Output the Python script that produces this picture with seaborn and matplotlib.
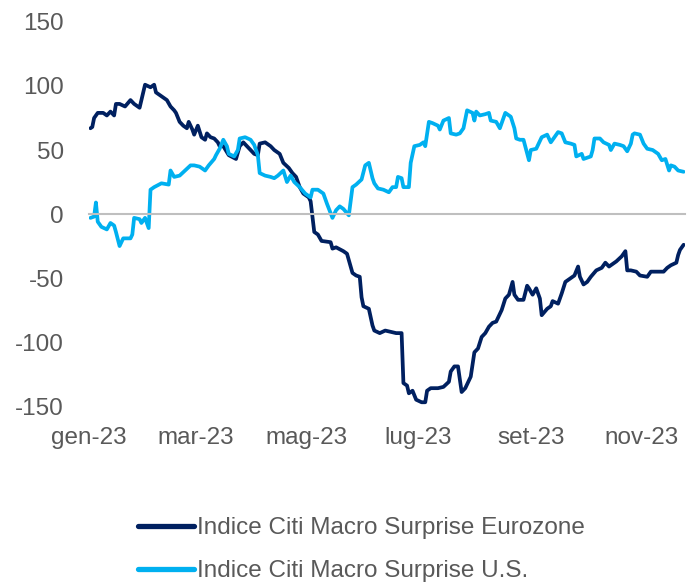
import pandas as pd
import numpy as np
import matplotlib
matplotlib.use("Agg")
import matplotlib.pyplot as plt
import matplotlib.dates as mdates
from matplotlib.lines import Line2D
import seaborn as sns

# ===============================
# Data
# day = days since 1 Jan 2023
# ===============================
us_days = [1, 3, 4, 5, 7, 10, 12, 14, 15, 17, 19, 23, 24, 25, 28, 29, 31, 33, 34, 36,
           40, 44, 45, 47, 50, 53, 56, 58, 61, 64, 66, 69, 70, 72, 74, 76, 77, 80, 82, 83,
           86, 89, 91, 93, 94, 97, 100, 102, 104, 107, 109, 111, 113, 116, 119, 122, 123, 126, 129, 131,
           134, 136, 138, 140, 143, 145, 147, 150, 152, 154, 156, 157, 159, 162, 165, 167, 169, 170, 172, 173,
           176, 177, 179, 182, 184, 185, 187, 189, 192, 193, 195, 198, 199, 202, 204, 206, 208, 211, 212, 213,
           215, 218, 220, 221, 224, 226, 229, 232, 234, 235, 237, 239, 242, 243, 246, 249, 252, 254, 258, 260,
           262, 265, 267, 268, 271, 272, 276, 277, 278, 281, 283, 286, 287, 289, 292, 294, 296, 298, 299, 300,
           303, 305, 307, 310, 313, 315, 317, 319, 320, 322, 324, 327]
us_vals = [-3, -2, 9, -6, -10, -12, -7, -9, -14, -25, -19, -19, -16, -3, -4, -7, -3, -11, 19, 21,
           24, 23, 34, 29, 30, 34, 38, 38, 37, 34, 38, 43, 46, 51, 58, 53, 47, 45, 50, 59,
           60, 58, 54, 46, 32, 30, 29, 28, 30, 34, 25, 30, 25, 21, 16, 13, 19, 19, 16, 8,
           -3, 3, 6, 4, -1, 21, 23, 27, 38, 40, 28, 24, 20, 19, 17, 21, 21, 29, 28, 21,
           21, 40, 53, 54, 56, 53, 72, 71, 69, 66, 73, 75, 63, 62, 63, 67, 81, 79, 73, 80,
           77, 78, 79, 73, 72, 67, 79, 76, 67, 59, 58, 58, 42, 50, 51, 60, 62, 56, 64, 63,
           56, 55, 54, 45, 47, 43, 45, 50, 59, 59, 56, 54, 50, 55, 54, 53, 49, 55, 62, 63,
           62, 55, 51, 50, 47, 42, 43, 34, 38, 37, 34, 33]

eu_days = [1, 2, 3, 5, 8, 10, 12, 14, 15, 17, 20, 23, 25, 28, 29, 31, 34, 36, 37, 40,
           43, 45, 47, 48, 50, 52, 54, 55, 57, 58, 60, 62, 64, 65, 67, 69, 71, 72, 74, 77,
           81, 83, 85, 87, 89, 91, 93, 94, 97, 100, 102, 105, 107, 110, 112, 114, 116, 118, 121, 122,
           123, 124, 126, 128, 133, 134, 136, 140, 142, 145, 147, 149, 150, 151, 154, 156, 157, 160, 163, 166,
           169, 172, 173, 175, 176, 178, 180, 183, 185, 186, 188, 192, 195, 198, 199, 201, 203, 205, 207, 209,
           210, 212, 214, 216, 218, 220, 222, 224, 227, 229, 231, 233, 234, 236, 239, 241, 242, 244, 246, 248,
           249, 252, 254, 255, 258, 260, 262, 265, 267, 269, 270, 272, 274, 276, 279, 282, 284, 286, 290, 293,
           295, 296, 298, 301, 303, 307, 309, 312, 316, 318, 320, 323, 324, 325, 327]
eu_vals = [67, 68, 75, 79, 79, 77, 80, 77, 86, 86, 84, 89, 86, 83, 89, 101, 99, 101, 95, 92,
           89, 84, 81, 79, 72, 69, 67, 72, 66, 62, 69, 60, 58, 63, 60, 59, 56, 53, 53, 46,
           43, 53, 56, 53, 50, 47, 46, 55, 56, 53, 50, 47, 40, 36, 32, 29, 21, 16, 13, 10,
           -2, -14, -16, -21, -22, -27, -26, -29, -31, -46, -48, -49, -65, -72, -74, -87, -91, -93, -91, -92,
           -93, -93, -132, -134, -140, -138, -145, -147, -147, -138, -136, -136, -135, -131, -123, -119, -119, -139, -136, -130,
           -127, -108, -105, -96, -93, -88, -85, -84, -75, -66, -63, -53, -63, -67, -67, -56, -58, -63, -58, -66,
           -79, -74, -72, -68, -70, -62, -53, -50, -48, -41, -49, -55, -53, -49, -44, -42, -38, -41, -37, -33,
           -29, -44, -44, -45, -48, -49, -45, -45, -45, -42, -40, -38, -32, -28, -24]

series_names = ["Indice Citi Macro Surprise Eurozone", "Indice Citi Macro Surprise U.S."]
series_colors = ["#002060", "#00B0F0"]

tick_months = ["2023-01-01", "2023-03-01", "2023-05-01", "2023-07-01", "2023-09-01", "2023-11-01"]
tick_labels = ["gen-23", "mar-23", "mag-23", "lug-23", "set-23", "nov-23"]
y_ticks = [-150, -100, -50, 0, 50, 100, 150]

start = pd.Timestamp("2023-01-01")
df = pd.concat([
    pd.DataFrame({"date": start + pd.to_timedelta(eu_days, unit="D"), "value": eu_vals, "series": series_names[0]}),
    pd.DataFrame({"date": start + pd.to_timedelta(us_days, unit="D"), "value": us_vals, "series": series_names[1]}),
])

# ===============================
# Plot
# ===============================
sns.set_style("white")
plt.rcParams["font.family"] = ["Liberation Sans", "DejaVu Sans"]
plt.rcParams["axes.unicode_minus"] = False
grey_txt = "#595959"
grey_line = "#BFBFBF"
fsize = 17.5

fig = plt.figure(figsize=(6.98, 5.86), dpi=100)
ax = fig.add_axes([0.127, 0.307, 0.855, 0.6555])

sns.lineplot(data=df, x="date", y="value", hue="series", hue_order=series_names,
             palette=series_colors, linewidth=2.7, ax=ax, legend=False, sort=True)

ax.set_ylim(-150, 150)
ax.set_xlim(start, start + pd.Timedelta(days=328))
ax.set_yticks(y_ticks)
ax.set_xlabel("")
ax.set_ylabel("")
ax.tick_params(axis="y", length=0, labelsize=fsize, labelcolor=grey_txt, pad=18)

for s in ["top", "right", "left"]:
    ax.spines[s].set_visible(False)
# category axis crosses at zero
ax.spines["bottom"].set_position(("data", 0))
ax.spines["bottom"].set_color(grey_line)
ax.spines["bottom"].set_linewidth(1.5)
ticks_num = mdates.date2num(pd.to_datetime(tick_months))
ax.set_xticks(ticks_num)
ax.tick_params(axis="x", direction="out", length=4, width=1.5, color=grey_line, labelbottom=False)

# labels at the bottom ("low" position)
sec = ax.secondary_xaxis("bottom")
sec.set_xticks(ticks_num, labels=tick_labels)
sec.tick_params(length=0, labelsize=fsize, labelcolor=grey_txt, pad=15)
sec.spines["bottom"].set_visible(False)

handles = [Line2D([], [], color=c, linewidth=3.8, solid_capstyle="round") for c in series_colors]
fig.legend(handles, series_names, loc="center", bbox_to_anchor=(0.518, 0.062),
           ncol=1, frameon=False, fontsize=fsize, labelcolor=grey_txt,
           handlelength=2.3, handletextpad=0.1, labelspacing=0.85)

fig.savefig("out.png", dpi=100)
